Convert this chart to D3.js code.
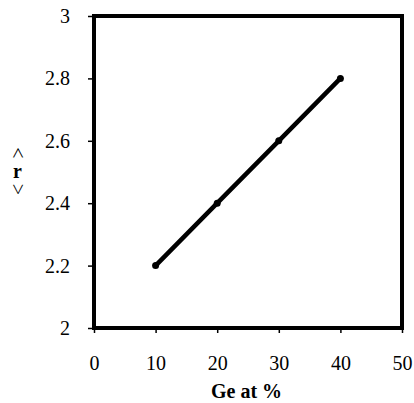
<!DOCTYPE html>
<html>
<head>
<meta charset="utf-8">
<script src="https://cdn.jsdelivr.net/npm/d3@7"></script>
<style>
  body { margin: 0; background: #fff; }
</style>
</head>
<body>
<div id="chart"></div>
<script>
// data
const geAt = [10, 20, 30, 40];
const rValues = [2.2, 2.4, 2.6, 2.8];
const xTicks = [0, 10, 20, 30, 40, 50];
const yTicks = [2, 2.2, 2.4, 2.6, 2.8, 3];

const serif = '"Liberation Serif", "Times New Roman", "DejaVu Serif", serif';
const w = 414, h = 403;
const margin = { left: 94, right: 12, top: 16, bottom: 75 };

const svg = d3.select('#chart')
  .append('svg')
  .attr('width', w)
  .attr('height', h);

const xScale = d3.scaleLinear()
  .domain([0, 50])
  .range([margin.left, w - margin.right]);

const yScale = d3.scaleLinear()
  .domain([2, 3])
  .range([h - margin.bottom, margin.top]);

// axes
const xAxis = d3.axisBottom(xScale)
  .tickValues(xTicks)
  .tickSize(5)
  .tickPadding(23)
  .tickFormat(d3.format('d'));

const yAxis = d3.axisLeft(yScale)
  .tickValues(yTicks)
  .tickSize(6)
  .tickPadding(18)
  .tickFormat(d => String(d));

const gx = svg.append('g')
  .attr('transform', 'translate(0,' + (h - margin.bottom) + ')')
  .call(xAxis)
  .attr('font-family', serif)
  .attr('font-size', 20);

const gy = svg.append('g')
  .attr('transform', 'translate(' + margin.left + ',0)')
  .call(yAxis)
  .attr('font-family', serif)
  .attr('font-size', 20);

gx.select('.domain').remove();
gy.select('.domain').remove();
svg.selectAll('.tick line').attr('stroke', '#000').attr('stroke-width', 1.5);
svg.selectAll('.tick text')
  .attr('fill', '#000')
  .style('font-family', serif)
  .style('font-size', '20px');

// plot frame
svg.append('rect')
  .attr('x', xScale(0))
  .attr('y', yScale(3))
  .attr('width', xScale(50) - xScale(0))
  .attr('height', yScale(2) - yScale(3))
  .attr('fill', 'none')
  .attr('stroke', '#000')
  .attr('stroke-width', 4);

// line
const pts = geAt.map((d, i) => [d, rValues[i]]);
const line = d3.line()
  .x(d => xScale(d[0]))
  .y(d => yScale(d[1]));

svg.append('path')
  .datum(pts)
  .attr('d', line)
  .attr('fill', 'none')
  .attr('stroke', '#000')
  .attr('stroke-width', 4.5);

svg.selectAll('.pt')
  .data(pts)
  .enter()
  .append('circle')
  .attr('class', 'pt')
  .attr('cx', d => xScale(d[0]))
  .attr('cy', d => yScale(d[1]))
  .attr('r', 3.5)
  .attr('fill', '#000');

// axis titles
svg.append('text')
  .attr('x', 246.5)
  .attr('y', 398)
  .attr('text-anchor', 'middle')
  .style('font-family', serif)
  .style('font-size', '20px')
  .style('font-weight', 'bold')
  .text('Ge at %');

// vertical "<r>": brackets turned, letter upright
const yTitle = svg.append('g');
yTitle.append('text')
  .attr('transform', 'translate(15.5,153) rotate(90)')
  .attr('text-anchor', 'middle')
  .attr('dy', '0.25em')
  .style('font-family', serif)
  .style('font-size', '20px')
  .text('<');
yTitle.append('text')
  .attr('x', 17.5)
  .attr('y', 177.5)
  .attr('text-anchor', 'middle')
  .style('font-family', serif)
  .style('font-size', '20px')
  .style('font-weight', 'bold')
  .text('r');
yTitle.append('text')
  .attr('transform', 'translate(15.5,189.5) rotate(90)')
  .attr('text-anchor', 'middle')
  .attr('dy', '0.25em')
  .style('font-family', serif)
  .style('font-size', '20px')
  .text('>');
</script>
</body>
</html>
